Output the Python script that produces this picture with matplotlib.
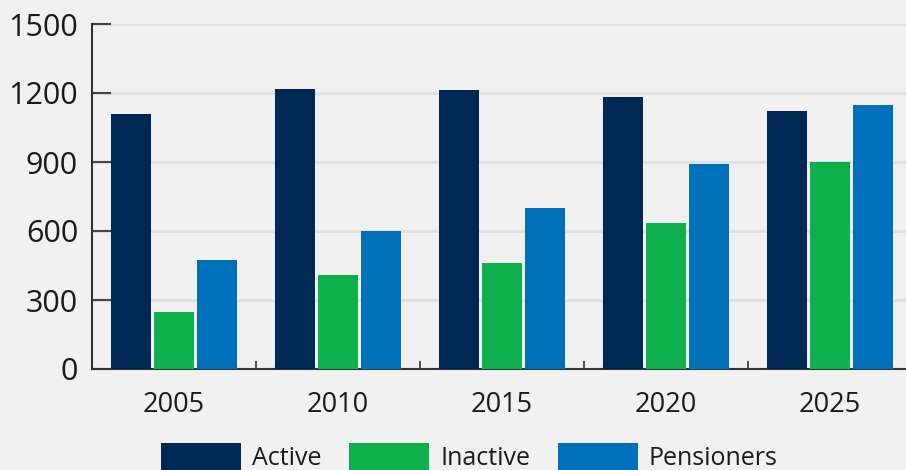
import matplotlib
matplotlib.use("Agg")
import matplotlib.pyplot as plt
import numpy as np

years = ["2005", "2010", "2015", "2020", "2025"]
active = [1109, 1217, 1213, 1183, 1122]
inactive = [248, 409, 461, 635, 900]
pensioners = [474, 600, 700, 891, 1148]
series_names = ["Active", "Inactive", "Pensioners"]
colors = ["#002855", "#0db04b", "#0070bb"]
yticks = [0, 300, 600, 900, 1200, 1500]

plt.rcParams['font.family'] = ['Open Sans', 'DejaVu Sans']
W, H = 906, 470
fig = plt.figure(figsize=(W / 100, H / 100), dpi=100, facecolor="#f1f1f1")
ax = fig.add_axes([92 / W, (H - 369) / H, 820 / W, 345 / H], facecolor="#f1f1f1")

x = np.arange(len(years))
bw = 0.244
offs = [-0.265, 0.0, 0.265]
for vals, off, c, name in zip([active, inactive, pensioners], offs, colors, series_names):
    ax.bar(x + off, vals, width=bw, color=c, label=name, zorder=3)

ax.set_xlim(-0.5, len(years) - 0.5)
ax.set_ylim(0, 1500)
ax.set_yticks(yticks)
ax.set_yticklabels([str(v) for v in yticks], fontsize=22, color="#1a1a1a")
ax.set_xticks(x)
ax.set_xticklabels(years, fontsize=19.5, color="#1a1a1a")
ax.set_xticks(np.arange(-0.5, len(years) - 0.4, 1.0), minor=True)
ax.tick_params(axis="x", which="major", length=0, pad=16)
ax.tick_params(axis="x", which="minor", direction="in", length=6, width=1.2, color="#333333")
ax.tick_params(axis="y", direction="in", length=14, width=1.5, color="#444444", pad=10)
ax.grid(axis="y", color="#e1e1e3", linewidth=2.2, zorder=0)
ax.set_axisbelow(True)
for s in ["top", "right"]:
    ax.spines[s].set_visible(False)
for s in ["left", "bottom"]:
    ax.spines[s].set_color("#333333")
    ax.spines[s].set_linewidth(1.5)

leg = fig.legend(loc="upper center", bbox_to_anchor=(0.518, (H - 430) / H), ncol=3, frameon=False,
                 handlelength=3.2, handleheight=1.4, handletextpad=0.45,
                 columnspacing=1.1, borderpad=0, labelcolor="#1a1a1a",
                 prop={"size": 18})

fig.savefig("out.png", dpi=100, facecolor=fig.get_facecolor())
